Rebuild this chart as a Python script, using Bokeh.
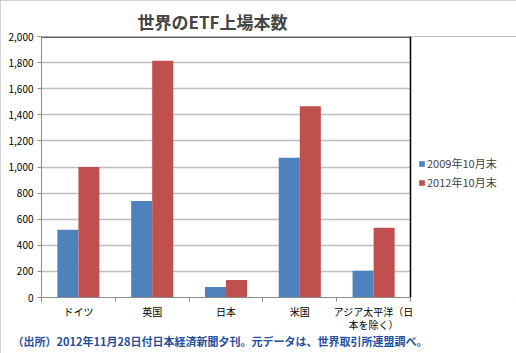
import numpy as np
from bokeh.plotting import figure
from bokeh.models import (ColumnDataSource, Range1d, Legend, LegendItem, Title, NumeralTickFormatter,
                          FixedTicker, BoxAnnotation, Span)
from bokeh.embed import file_html
from bokeh.resources import INLINE

categories = ["ドイツ", "英国", "日本", "米国", "アジア太平洋（日\n本を除く）"]
series_names = ["2009年10月末", "2012年10月末"]
values_2009 = [520, 740, 80, 1070, 205]
values_2012 = [1000, 1815, 135, 1465, 535]
y_ticks = [0, 200, 400, 600, 800, 1000, 1200, 1400, 1600, 1800, 2000]
title_text = "世界のETF上場本数"
note_text = "（出所）2012年11月28日付日本経済新聞夕刊。元データは、世界取引所連盟調べ。"

FONT = "Noto Sans CJK JP"
BLUE = "#4f81bd"
RED = "#c0504d"

n_cat = len(categories)
idx = np.arange(n_cat)
w = 0.285
cat_px = 369 / n_cat          # pixel width of one category slot
extra = 106 / cat_px          # room at the right for the legend, in category units
x_end = n_cat - 0.5

src = ColumnDataSource(dict(x09=idx - w / 2, x12=idx + w / 2, v09=values_2009, v12=values_2012))

p = figure(x_range=Range1d(-0.5, x_end + extra), y_range=Range1d(0, 2000),
           width=516, height=353,
           min_border_left=41, min_border_right=0, min_border_top=36, min_border_bottom=56,
           output_backend="svg", toolbar_location=None, tools="")
p.styles = {"outline": "2px solid #c4c4c4", "outline-offset": "-2px"}

r1 = p.vbar(x="x09", top="v09", width=w, source=src, fill_color=BLUE, line_color=None)
r2 = p.vbar(x="x12", top="v12", width=w, source=src, fill_color=RED, line_color=None)

p.yaxis.ticker = FixedTicker(ticks=y_ticks)
p.yaxis.formatter = NumeralTickFormatter(format="0,0")
p.xaxis.ticker = FixedTicker(ticks=list(idx), minor_ticks=list(np.arange(n_cat + 1) - 0.5))
p.xaxis.major_label_overrides = {int(i): c for i, c in zip(idx, categories)}
p.xaxis.bounds = (-0.5, x_end)
for ax in (p.xaxis[0], p.yaxis[0]):
    ax.axis_line_color = "#8c8c8c"
    ax.major_tick_line_color = "#8c8c8c"
    ax.major_tick_in = 0
    ax.major_tick_out = 4
    ax.major_label_text_font = FONT
    ax.major_label_text_font_size = "10px"
    ax.major_label_text_color = "#000000"
    ax.major_label_text_line_height = 0.9
p.yaxis.minor_tick_line_color = None
p.xaxis.major_tick_line_color = None
p.xaxis.major_tick_out = 0
p.xaxis.minor_tick_line_color = "#8c8c8c"
p.xaxis.minor_tick_in = 0
p.xaxis.minor_tick_out = 4
p.xaxis.major_label_standoff = 2
p.yaxis.major_label_standoff = 4

p.xgrid.grid_line_color = None
p.ygrid.grid_line_color = "#bdbdbd"
p.ygrid.grid_line_width = 1.5
p.outline_line_color = None
p.background_fill_color = "white"
p.border_fill_color = "white"

p.add_layout(Span(location=y_ticks[-1], dimension="width", line_color="#606060", line_width=3))
p.add_layout(BoxAnnotation(left=x_end, fill_color="white", fill_alpha=1, line_color=None))
p.add_layout(Span(location=x_end, dimension="height", line_color="#000000", line_width=1.5))

legend = Legend(items=[LegendItem(label=series_names[0], renderers=[r1]),
                       LegendItem(label=series_names[1], renderers=[r2])],
                location=(377, 107), border_line_color=None, background_fill_alpha=0,
                label_text_font=FONT, label_text_font_size="11px",
                glyph_width=7, glyph_height=7, label_height=14, label_standoff=2, spacing=3,
                padding=2, margin=0)
p.add_layout(legend, "center")

t = Title(text=title_text, text_font=FONT, text_font_size="17px", text_font_style="bold",
          align="left", offset=96, standoff=6)
p.add_layout(t, "above")

n = Title(text=note_text, text_font=FONT, text_font_size="11px", text_font_style="bold",
          text_color="#1f4e9c", align="left", offset=-29, standoff=-6, vertical_align="top")
p.add_layout(n, "below")

open("out.html", "w").write(file_html(p, INLINE))
